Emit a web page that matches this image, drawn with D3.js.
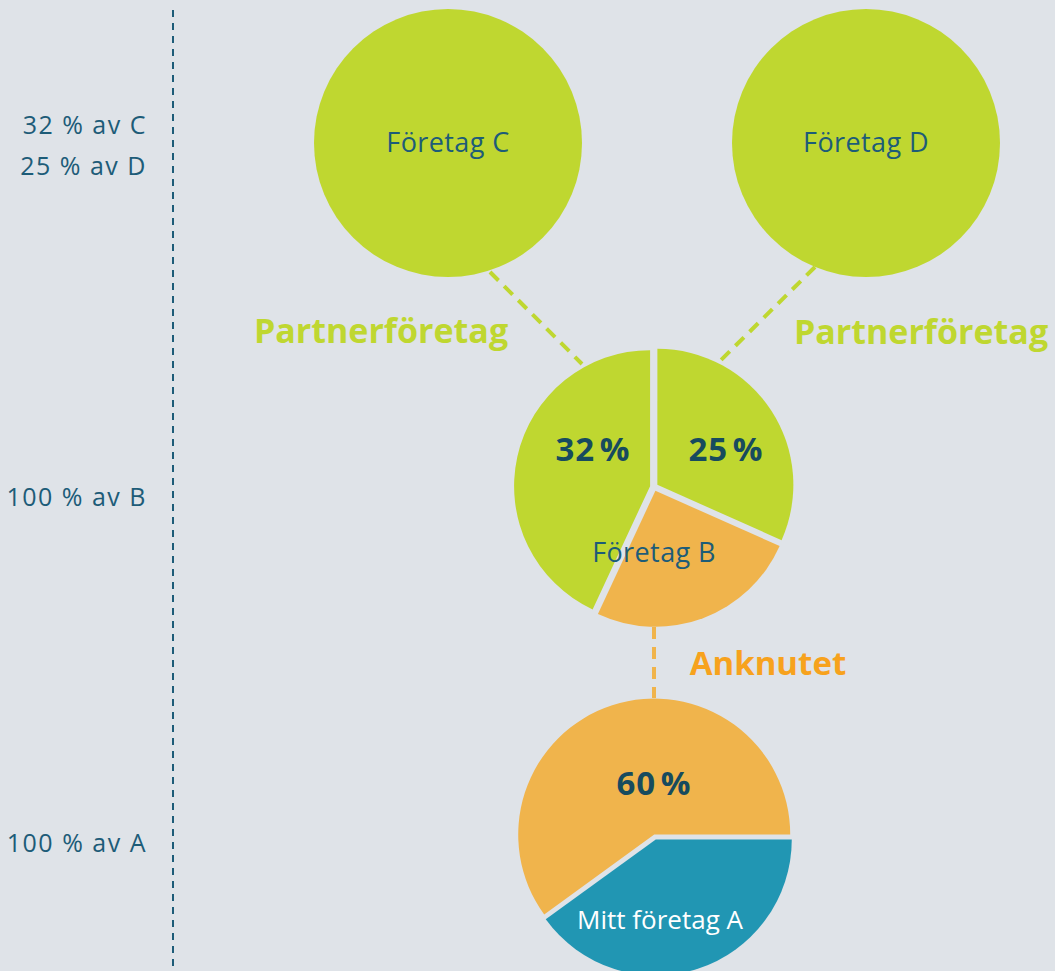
<!DOCTYPE html>
<html lang="sv">
<head>
<meta charset="utf-8">
<title>Partnerföretag och anknutna företag</title>
<script src="https://d3js.org/d3.v7.min.js"></script>
<style>
  html, body { margin: 0; padding: 0; background: #dfe3e8; }
  svg { display: block; font-family: "Open Sans", "DejaVu Sans", sans-serif; }
</style>
</head>
<body>
<script>
// chart data
var levelLabels = ["32 % av C", "25 % av D", "100 % av B", "100 % av A"];
var partnerNames = ["Företag C", "Företag D"];
var pieBShares = [114, 91, 155];          // right, bottom, left (degrees of the circle)
var pieBTexts = ["25 %", "", "32 %"];
var pieBKinds = ["partner", "linked", "partner"];
var pieAShares = [40, 60];                // Mitt företag A, anknutet
var pieAKinds = ["own", "linked"];
var pieATexts = ["", "60 %"];

var w = 1055, h = 971;
var green = "#bfd730", orange = "#f0b44c", blue = "#2196b3";
var dark = "#174b5e", mid = "#1d5c78";
var fill = { partner: green, linked: orange, own: blue };

var svg = d3.select("body").append("svg")
  .attr("width", w).attr("height", h);

// dashed divider
svg.append("line")
  .attr("x1", 173).attr("x2", 173).attr("y1", 10).attr("y2", h)
  .attr("stroke", mid).attr("stroke-width", 2)
  .attr("stroke-dasharray", "7,6");

// level labels on the left
var labelY = d3.scaleOrdinal().domain(levelLabels).range([134, 175, 506, 852]);
svg.selectAll("text.level")
  .data(levelLabels)
  .enter().append("text")
  .attr("class", "level")
  .attr("x", 147).attr("y", function (d) { return labelY(d); })
  .attr("text-anchor", "end")
  .attr("fill", mid).style("font-size", "25px")
  .style("letter-spacing", "1.5px")
  .text(function (d) { return d; });

var R = 136;
var cB = [654, 487], cA = [655, 837];
var partnerX = d3.scalePoint().domain(partnerNames).range([448, 866]);

// connectors
var links = svg.append("g").attr("fill", "none").attr("stroke-width", 4);
links.append("line").attr("x1", 490).attr("y1", 272).attr("x2", 582).attr("y2", 364)
  .attr("stroke", green).attr("stroke-dasharray", "12,8");
links.append("line").attr("x1", 815).attr("y1", 267).attr("x2", 721).attr("y2", 360)
  .attr("stroke", green).attr("stroke-dasharray", "12,8");
links.append("line").attr("x1", 654).attr("y1", 627).attr("x2", 654).attr("y2", 698)
  .attr("stroke", orange).attr("stroke-dasharray", "12,8");

// partner companies C and D
var partners = svg.selectAll("g.partner")
  .data(partnerNames)
  .enter().append("g")
  .attr("transform", function (d) { return "translate(" + partnerX(d) + ",143)"; });
partners.append("circle").attr("r", 134).attr("fill", green);
partners.append("text")
  .attr("text-anchor", "middle").attr("dy", "0.35em")
  .attr("fill", mid).style("font-size", "27px")
  .style("letter-spacing", "0.4px")
  .text(function (d) { return d; });

// exploded pie helper
function drawPie(center, shares, start, kinds, gap) {
  var pie = d3.pie().sort(null).value(function (d) { return d; })
    .startAngle(start).endAngle(start + 2 * Math.PI);
  var arc = d3.arc().innerRadius(0).outerRadius(R);
  var g = svg.append("g").attr("transform", "translate(" + center + ")");
  var slices = g.selectAll("g").data(pie(shares)).enter().append("g")
    .attr("transform", function (d) {
      var a = (d.startAngle + d.endAngle) / 2;
      return "translate(" + gap * Math.sin(a) + "," + (-gap * Math.cos(a)) + ")";
    });
  slices.append("path").attr("d", arc)
    .attr("fill", function (d, i) { return fill[kinds[i]]; });
  return { g: g, slices: slices };
}

var pB = drawPie(cB, pieBShares, 0, pieBKinds, 4);
var pA = drawPie(cA, pieAShares, Math.PI / 2, pieAKinds, 2.5);

// percentage labels
function pct(g, x, y, t) {
  g.append("text").attr("x", x).attr("y", y)
    .attr("text-anchor", "middle").attr("fill", dark)
    .style("font-size", "33px").style("font-weight", "bold")
    .style("letter-spacing", "1px").style("word-spacing", "-5px")
    .text(t);
}
pct(pB.g, -61, -26, pieBTexts[2]);
pct(pB.g, 72, -26, pieBTexts[0]);
pct(pA.g, -1, -42, pieATexts[1]);

pB.g.append("text").attr("x", 0).attr("y", 75)
  .attr("text-anchor", "middle").attr("fill", mid)
  .style("font-size", "27px").style("letter-spacing", "0.4px").text("Företag B");
pA.g.append("text").attr("x", 5).attr("y", 92)
  .attr("text-anchor", "middle").attr("fill", "#ffffff")
  .style("font-size", "26px").text("Mitt företag A");

// relation labels
var rel = svg.append("g").style("font-weight", "bold");
rel.append("text").attr("x", 381).attr("y", 343).attr("text-anchor", "middle")
  .attr("fill", green).style("font-size", "34px").text("Partnerföretag");
rel.append("text").attr("x", 921).attr("y", 344).attr("text-anchor", "middle")
  .attr("fill", green).style("font-size", "34px").text("Partnerföretag");
rel.append("text").attr("x", 768).attr("y", 675).attr("text-anchor", "middle")
  .attr("fill", "#f7a21d").style("font-size", "33px").text("Anknutet");
</script>
</body>
</html>
